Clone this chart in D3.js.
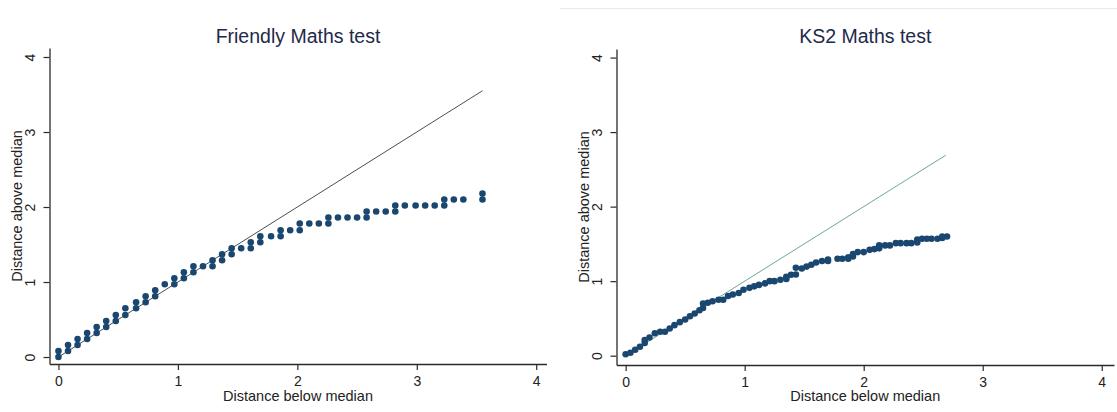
<!DOCTYPE html>
<html>
<head>
<meta charset="utf-8">
<script src="https://cdn.jsdelivr.net/npm/d3@7"></script>
<style>
  body { margin: 0; background: #fff; }
  svg { display: block; font-family: "Liberation Sans", Arial, sans-serif; }
</style>
</head>
<body>
<div id="chart"></div>
<script>
// 軸の目盛り
const tickValues = [0, 1, 2, 3, 4];
const xTitle = 'Distance below median';
const yTitle = 'Distance above median';

// Friendly Maths test: [distance below median, distance above median]
const friendlyPoints = [
  [0, 0], [0, .08], [.08, .08], [.08, .16], [.16, .16], [.16, .24], [.24, .24], [.24, .32],
  [.32, .32], [.32, .40], [.40, .40], [.40, .48], [.48, .48], [.48, .56], [.56, .56], [.56, .65],
  [.65, .65], [.65, .73], [.73, .73], [.73, .81], [.81, .81], [.81, .89], [.89, .97], [.97, .97],
  [.97, 1.05], [1.05, 1.05], [1.05, 1.13], [1.13, 1.13], [1.13, 1.21], [1.21, 1.21], [1.29, 1.21],
  [1.29, 1.29], [1.37, 1.29], [1.37, 1.37], [1.45, 1.37], [1.45, 1.45], [1.53, 1.45], [1.61, 1.45],
  [1.61, 1.53], [1.69, 1.53], [1.69, 1.61], [1.78, 1.61], [1.86, 1.61], [1.86, 1.69], [1.94, 1.69],
  [2.02, 1.69], [2.02, 1.78], [2.10, 1.78], [2.18, 1.78], [2.26, 1.78], [2.26, 1.86], [2.34, 1.86],
  [2.42, 1.86], [2.50, 1.86], [2.58, 1.86], [2.58, 1.94], [2.66, 1.94], [2.74, 1.94], [2.82, 1.94],
  [2.82, 2.02], [2.90, 2.02], [2.99, 2.02], [3.07, 2.02], [3.15, 2.02], [3.23, 2.02], [3.23, 2.10],
  [3.31, 2.10], [3.39, 2.10], [3.55, 2.10], [3.55, 2.18]
];

// KS2 Maths test
const ks2Points = [
  [0, .02], [.04, .04], [.08, .08], [.12, .12], [.16, .17], [.16, .21], [.20, .245], [.245, .30],
  [.29, .32], [.33, .32], [.37, .365], [.41, .41], [.455, .45], [.50, .485], [.54, .53], [.58, .565],
  [.62, .61], [.65, .64], [.65, .70], [.69, .71], [.73, .73], [.78, .75], [.82, .75], [.86, .80],
  [.90, .82], [.95, .84], [.99, .885], [1.04, .91], [1.08, .93], [1.12, .95], [1.17, .97], [1.21, 1.0],
  [1.25, 1.0], [1.30, 1.02], [1.35, 1.03], [1.35, 1.06], [1.39, 1.085], [1.43, 1.09], [1.43, 1.18],
  [1.48, 1.17], [1.52, 1.195], [1.56, 1.22], [1.60, 1.25], [1.65, 1.27], [1.70, 1.27], [1.70, 1.29],
  [1.78, 1.30], [1.82, 1.30], [1.87, 1.30], [1.87, 1.32], [1.91, 1.33], [1.91, 1.365], [1.95, 1.39],
  [2.00, 1.39], [2.05, 1.42], [2.09, 1.43], [2.13, 1.44], [2.13, 1.48], [2.18, 1.48], [2.22, 1.48],
  [2.27, 1.51], [2.31, 1.51], [2.36, 1.51], [2.40, 1.51], [2.45, 1.52], [2.45, 1.56], [2.49, 1.57],
  [2.53, 1.57], [2.57, 1.57], [2.62, 1.57], [2.66, 1.58], [2.66, 1.60], [2.70, 1.60]
];

// 対角線の終点
const friendlyMax = 3.55;
const ks2Max = 2.69;

const svgWidth = 1117;
const svgHeight = 412;
const svg = d3.select('#chart')
  .append('svg')
  .attr('width', svgWidth)
  .attr('height', svgHeight);

// 右パネル上端の薄い区切り線
svg.append('line')
  .attr('x1', 560).attr('x2', svgWidth)
  .attr('y1', 8.5).attr('y2', 8.5)
  .attr('stroke', '#e4ebed')
  .attr('stroke-width', 1);

function drawPanel(opt) {
  const width = opt.right - opt.left;
  const height = opt.bottom - opt.top;
  const graph = svg.append('g')
    .attr('transform', `translate(${opt.left},${opt.top})`);

  const xScale = d3.scaleLinear().domain(opt.xDomain).range([0, width]);
  const yScale = d3.scaleLinear().domain(opt.yDomain).range([height, 0]);
  const fmt = d3.format('d');

  // x軸
  const xAxis = graph.append('g')
    .attr('transform', `translate(0,${height})`)
    .call(d3.axisBottom(xScale).tickValues(tickValues).tickFormat(fmt)
      .tickSize(6).tickPadding(6).tickSizeOuter(0));
  // y軸
  const yAxis = graph.append('g')
    .call(d3.axisLeft(yScale).tickValues(tickValues).tickFormat(fmt)
      .tickSize(6).tickSizeOuter(0));

  [xAxis, yAxis].forEach(ax => {
    ax.select('.domain').attr('stroke', '#2a2a2a').attr('stroke-width', 1.3);
    ax.selectAll('.tick line').attr('stroke', '#2a2a2a').attr('stroke-width', 1.2);
    ax.selectAll('.tick text')
      .attr('fill', '#222')
      .style('font-size', '14px')
      .style('font-family', '"Liberation Sans", Arial, sans-serif');
  });
  // y目盛りラベルは縦書き
  yAxis.selectAll('.tick text')
    .attr('x', null)
    .attr('dy', null)
    .attr('text-anchor', 'middle')
    .attr('transform', 'translate(-14.5,0) rotate(-90)');

  // 対角線
  graph.append('line')
    .attr('x1', xScale(0)).attr('y1', yScale(0))
    .attr('x2', xScale(opt.lineMax)).attr('y2', yScale(opt.lineMax))
    .attr('stroke', opt.lineColor)
    .attr('stroke-width', 0.9);

  // 点
  graph.selectAll('path.pt')
    .data(opt.points)
    .enter()
    .append('path')
    .attr('class', 'pt')
    .attr('d', d3.symbol().type(d3.symbolCircle).size(34))
    .attr('transform', d => `translate(${xScale(d[0])},${yScale(d[1])})`)
    .attr('fill', '#1a476f');

  // タイトル
  graph.append('text')
    .attr('x', width / 2)
    .attr('y', 42.5 - opt.top)
    .attr('text-anchor', 'middle')
    .attr('fill', '#1e2a4a')
    .style('font-size', '19.5px')
    .text(opt.title);

  // 軸タイトル
  graph.append('text')
    .attr('x', width / 2)
    .attr('y', 401 - opt.top)
    .attr('text-anchor', 'middle')
    .attr('fill', '#222')
    .style('font-size', '14.5px')
    .text(xTitle);

  graph.append('text')
    .attr('transform', `translate(${opt.yTitleX - opt.left},${height / 2}) rotate(-90)`)
    .attr('text-anchor', 'middle')
    .attr('fill', '#222')
    .style('font-size', '14.5px')
    .text(yTitle);
}

drawPanel({
  title: 'Friendly Maths test',
  points: friendlyPoints,
  lineMax: friendlyMax,
  lineColor: '#3a3a3a',
  left: 49.5, right: 546.5, top: 48, bottom: 364,
  xDomain: [-0.075, 4.086],
  yDomain: [-0.093, 4.12],
  yTitleX: 21.5
});

drawPanel({
  title: 'KS2 Maths test',
  points: ks2Points,
  lineMax: ks2Max,
  lineColor: '#5e9c8c',
  left: 616.5, right: 1114, top: 49, bottom: 365,
  xDomain: [-0.077, 4.103],
  yDomain: [-0.125, 4.115],
  yTitleX: 588.5
});
</script>
</body>
</html>
